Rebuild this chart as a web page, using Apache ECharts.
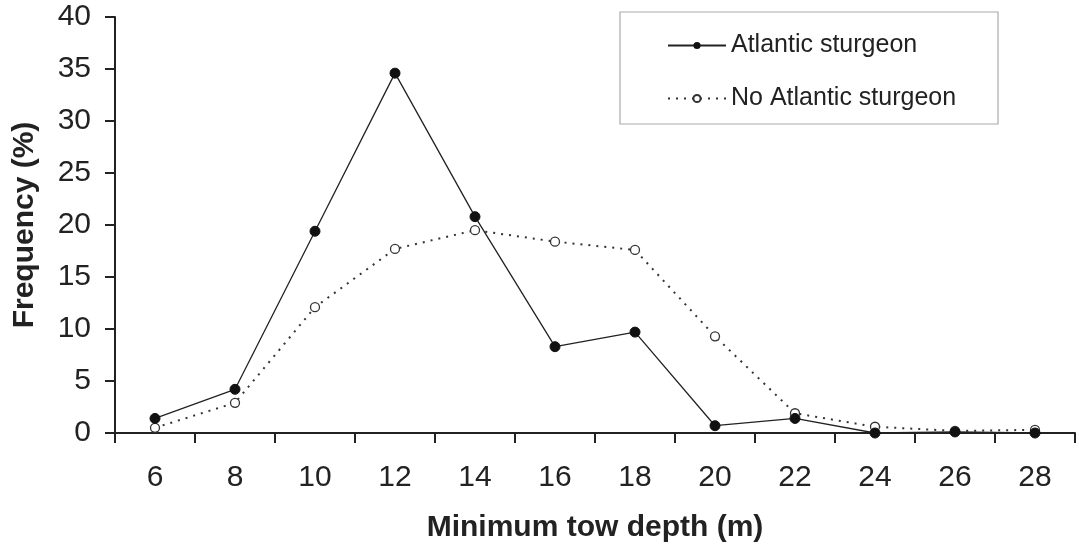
<!DOCTYPE html>
<html>
<head>
<meta charset="utf-8">
<script src="https://cdn.jsdelivr.net/npm/echarts@6/dist/echarts.min.js"></script>
<style>html,body{margin:0;padding:0;background:#fff}#c{width:1079px;height:550px}</style>
</head>
<body>
<div id="c"></div>
<script>
var categories = ['6','8','10','12','14','16','18','20','22','24','26','28'];
var atlantic = [1.4, 4.2, 19.4, 34.6, 20.8, 8.3, 9.7, 0.7, 1.4, 0, 0.1, 0];
var noAtlantic = [0.5, 2.9, 12.1, 17.7, 19.5, 18.4, 17.6, 9.3, 1.9, 0.6, 0.2, 0.3];
var yTicks = {min: 0, max: 40, interval: 5};

var chart = echarts.init(document.getElementById('c'), null, {renderer: 'canvas'});
var font = '"Liberation Sans", Arial, sans-serif';
chart.setOption({
  animation: false,
  backgroundColor: '#fff',
  textStyle: {fontFamily: font},
  grid: {left: 115, right: 4, top: 17, bottom: 117},
  graphic: [{
    type: 'rect', shape: {x: 620, y: 12, width: 378, height: 112},
    style: {fill: 'none', stroke: '#aaa', lineWidth: 1.2}, z: 0
  }],
  legend: {
    orient: 'vertical', left: 662, top: 28, itemGap: 28,
    itemWidth: 58, itemHeight: 9,
    data: ['Atlantic sturgeon', 'No Atlantic sturgeon'],
    textStyle: {fontSize: 25, color: '#222', fontFamily: font}
  },
  xAxis: {
    type: 'category', data: categories, boundaryGap: true,
    name: 'Minimum tow depth (m)', nameLocation: 'middle', nameGap: 80,
    nameTextStyle: {fontSize: 30, fontWeight: 'bold', color: '#222', fontFamily: font},
    axisLine: {lineStyle: {color: '#222', width: 2}},
    axisTick: {show: true, length: 10, lineStyle: {color: '#222', width: 2}, alignWithLabel: false},
    axisLabel: {fontSize: 30, color: '#222', margin: 30, fontFamily: font},
    splitLine: {show: false}
  },
  yAxis: {
    type: 'value', min: yTicks.min, max: yTicks.max, interval: yTicks.interval,
    name: 'Frequency (%)', nameLocation: 'middle', nameGap: 75,
    nameTextStyle: {fontSize: 30, fontWeight: 'bold', color: '#222', fontFamily: font},
    axisLine: {show: true, lineStyle: {color: '#222', width: 2}},
    axisTick: {show: true, length: 10, lineStyle: {color: '#222', width: 2}},
    axisLabel: {fontSize: 30, color: '#222', margin: 24, fontFamily: font},
    splitLine: {show: false}
  },
  series: [
    {
      name: 'No Atlantic sturgeon', type: 'line', data: noAtlantic,
      symbol: 'circle', symbolSize: 9, showSymbol: true,
      lineStyle: {color: '#333', width: 2, type: [2, 6]},
      itemStyle: {color: '#fff', borderColor: '#333', borderWidth: 1.3},
      z: 2
    },
    {
      name: 'Atlantic sturgeon', type: 'line', data: atlantic,
      symbol: 'circle', symbolSize: 10, showSymbol: true,
      lineStyle: {color: '#222', width: 1.3},
      itemStyle: {color: '#111', borderColor: '#111'},
      z: 3
    }
  ]
});
</script>
</body>
</html>
